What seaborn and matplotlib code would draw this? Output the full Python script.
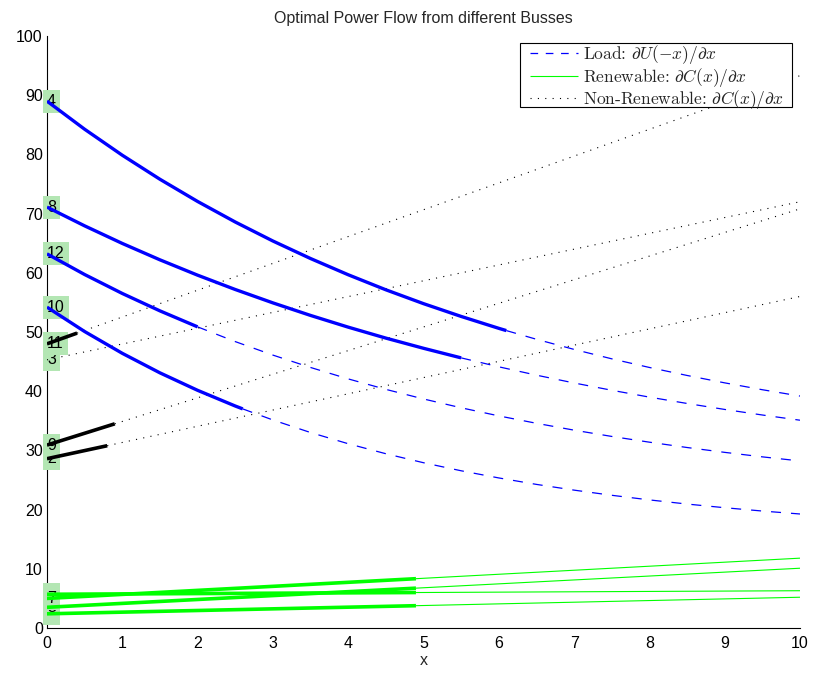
import numpy as np
import pandas as pd
import matplotlib
matplotlib.use("Agg")
import matplotlib.pyplot as plt
from matplotlib.lines import Line2D
from matplotlib.patches import Rectangle
import seaborn as sns

# Marginal utility of the load busses, sampled every half unit of x
grid_x = [0, 0.5, 1, 1.5, 2, 2.5, 3, 3.5, 4, 4.5, 5,
          5.5, 6, 6.5, 7, 7.5, 8, 8.5, 9, 9.5, 10]
load_buses = [4, 8, 10, 12]
load_4 = [89.0, 84.25, 79.86, 75.80, 72.05, 68.58, 65.37, 62.41, 59.67, 57.13, 54.79,
          52.63, 50.62, 48.77, 47.06, 45.47, 44.01, 42.66, 41.41, 40.25, 39.18]
load_8 = [71.1, 67.93, 64.96, 62.19, 59.60, 57.18, 54.92, 52.80, 50.82, 48.97, 47.25,
          45.63, 44.12, 42.71, 41.39, 40.16, 39.00, 37.93, 36.92, 35.98, 35.10]
load_10 = [54.2, 50.08, 46.40, 43.10, 40.15, 37.50, 35.14, 33.02, 31.13, 29.44, 27.92,
           26.56, 25.35, 24.26, 23.29, 22.42, 21.64, 20.94, 20.32, 19.76, 19.26]
load_12 = [63.2, 59.71, 56.51, 53.57, 50.87, 48.38, 46.10, 44.01, 42.08, 40.31, 38.69,
           37.20, 35.83, 34.58, 33.42, 32.36, 31.39, 30.49, 29.67, 28.91, 28.22]
load_curves = [load_4, load_8, load_10, load_12]
# optimal consumption of each load and the marginal utility reached there
load_opt_x = [6.1, 5.5, 2.6, 2.0]
load_opt_y = [50.24, 45.63, 37.01, 50.87]

# Renewable generators: linear marginal cost, value at x=0 and x=10
renew_buses = [1, 5, 6, 7]
renew_start = [2.4, 3.5, 5.7, 5.0]
renew_end = [5.2, 10.1, 6.3, 11.8]
renew_opt_x = [4.9, 4.9, 4.9, 4.9]

# Non-renewable generators: linear marginal cost, value at x=0 and x=10
nonrenew_buses = [2, 3, 9, 11]
nonrenew_start = [28.6, 45.3, 30.9, 48.0]
nonrenew_end = [56.0, 72.0, 70.8, 93.3]
nonrenew_opt_x = [0.8, 0.0, 0.9, 0.4]

x_ticks = [0, 1, 2, 3, 4, 5, 6, 7, 8, 9, 10]
y_ticks = [0, 10, 20, 30, 40, 50, 60, 70, 80, 90, 100]

BLUE = "#0000ff"
GREEN = "#00ff00"
LABEL_BG = "#b3e6b3"

sns.set_style("white")
plt.rcParams["font.family"] = ["Liberation Sans", "DejaVu Sans"]
plt.rcParams["mathtext.fontset"] = "cm"
plt.rcParams["lines.scale_dashes"] = False
plt.rcParams["lines.solid_capstyle"] = "butt"

DASHED = (0, (7.2, 7.2))
DOTTED = (0, (0.8, 4.5))

W, H = 814, 675
fig = plt.figure(figsize=(W / 100, H / 100), dpi=100)
ax = fig.add_axes([0.0577, 0.0696, 0.9251, 0.8771])


def draw(xs, ys, **kw):
    df = pd.DataFrame({"x": xs, "y": ys})
    sns.lineplot(data=df, x="x", y="y", ax=ax, sort=False, estimator=None,
                 legend=False, **kw)


# Loads: bold up to the optimum, dashed beyond it
for ys, xo, yo in zip(load_curves, load_opt_x, load_opt_y):
    gx = np.array(grid_x, dtype=float)
    gy = np.array(ys, dtype=float)
    left = gx < xo
    right = gx > xo
    draw(np.r_[gx[left], xo], np.r_[gy[left], yo], color=BLUE, linewidth=2.4, zorder=5)
    draw(np.r_[xo, gx[right]], np.r_[yo, gy[right]], color=BLUE, linewidth=0.9,
         linestyle=DASHED, zorder=4)

# Generators: straight marginal cost lines, bold over the dispatched range
for starts, ends, opts, color, style in [
    (renew_start, renew_end, renew_opt_x, GREEN, "-"),
    (nonrenew_start, nonrenew_end, nonrenew_opt_x, "black", DOTTED),
]:
    for y0, y1, xo in zip(starts, ends, opts):
        yo = np.interp(xo, [0, 10], [y0, y1])
        draw([xo, 10], [yo, y1], color=color, linewidth=0.8, linestyle=style, zorder=4)
        if xo > 0:
            draw([0, xo], [y0, yo], color=color, linewidth=2.6, zorder=5)

# Bus number tags at the start of each curve, drawn in bus order
tags = {}
for b, ys in zip(load_buses, load_curves):
    tags[b] = ys[0]
for b, y0 in zip(renew_buses, renew_start):
    tags[b] = y0
for b, y0 in zip(nonrenew_buses, nonrenew_start):
    tags[b] = y0
for i, b in enumerate(sorted(tags)):
    ax.text(0, tags[b], str(b), ha="left", va="center", fontsize=11.5,
            color="black", zorder=3 + i * 0.01,
            bbox=dict(boxstyle="square,pad=0.25", fc=LABEL_BG, ec="none"))

ax.set_xlim(0, 10)
ax.set_ylim(0, 100)
ax.set_xticks(x_ticks)
ax.set_yticks(y_ticks)
ax.set_xticklabels([str(t) for t in x_ticks])
ax.set_yticklabels([str(t) for t in y_ticks])
ax.tick_params(direction="in", length=5, width=0.8, labelsize=11.5, colors="black")
ax.tick_params(axis="x", pad=6)
ax.tick_params(axis="y", pad=3)
sns.despine(ax=ax)
for s in ("left", "bottom"):
    ax.spines[s].set_color("black")
    ax.spines[s].set_linewidth(0.8)
    ax.spines[s].set_zorder(2.5)

ax.set_xlabel("x", fontsize=11.5, labelpad=1)
ax.set_ylabel("")
ax.set_title("Optimal Power Flow from different Busses", fontsize=11.5, pad=9.4)

# Legend: a plain black box with the entries laid out inside it
box_l, box_r, box_t, box_b = 520, 792, 42.7, 107.3
frame = Rectangle((box_l / W, 1 - box_b / H), (box_r - box_l) / W, (box_b - box_t) / H,
                  transform=fig.transFigure, fc="white", ec="black", lw=0.8,
                  zorder=9, clip_on=False)
ax.add_artist(frame)

handles = [
    Line2D([], [], color=BLUE, linewidth=0.9, linestyle=(0, (5.5, 5.5))),
    Line2D([], [], color=GREEN, linewidth=0.8),
    Line2D([], [], color="black", linewidth=0.8, linestyle=DOTTED),
]
labels = [
    r"Load: $\partial U(-x)/\partial x$",
    r"Renewable: $\partial C(x)/\partial x$",
    r"Non-Renewable: $\partial C(x)/\partial x$",
]
leg = ax.legend(handles, labels, loc="upper left",
                bbox_to_anchor=(530 / W, 1 - 43.5 / H),
                bbox_transform=fig.transFigure, borderaxespad=0,
                prop={"family": "cmr10", "size": 12.5}, frameon=False,
                handlelength=2.77, handletextpad=0.29, labelspacing=-0.05,
                borderpad=0.0)
leg.set_zorder(10)

fig.savefig("out.png", dpi=100, facecolor="white")
